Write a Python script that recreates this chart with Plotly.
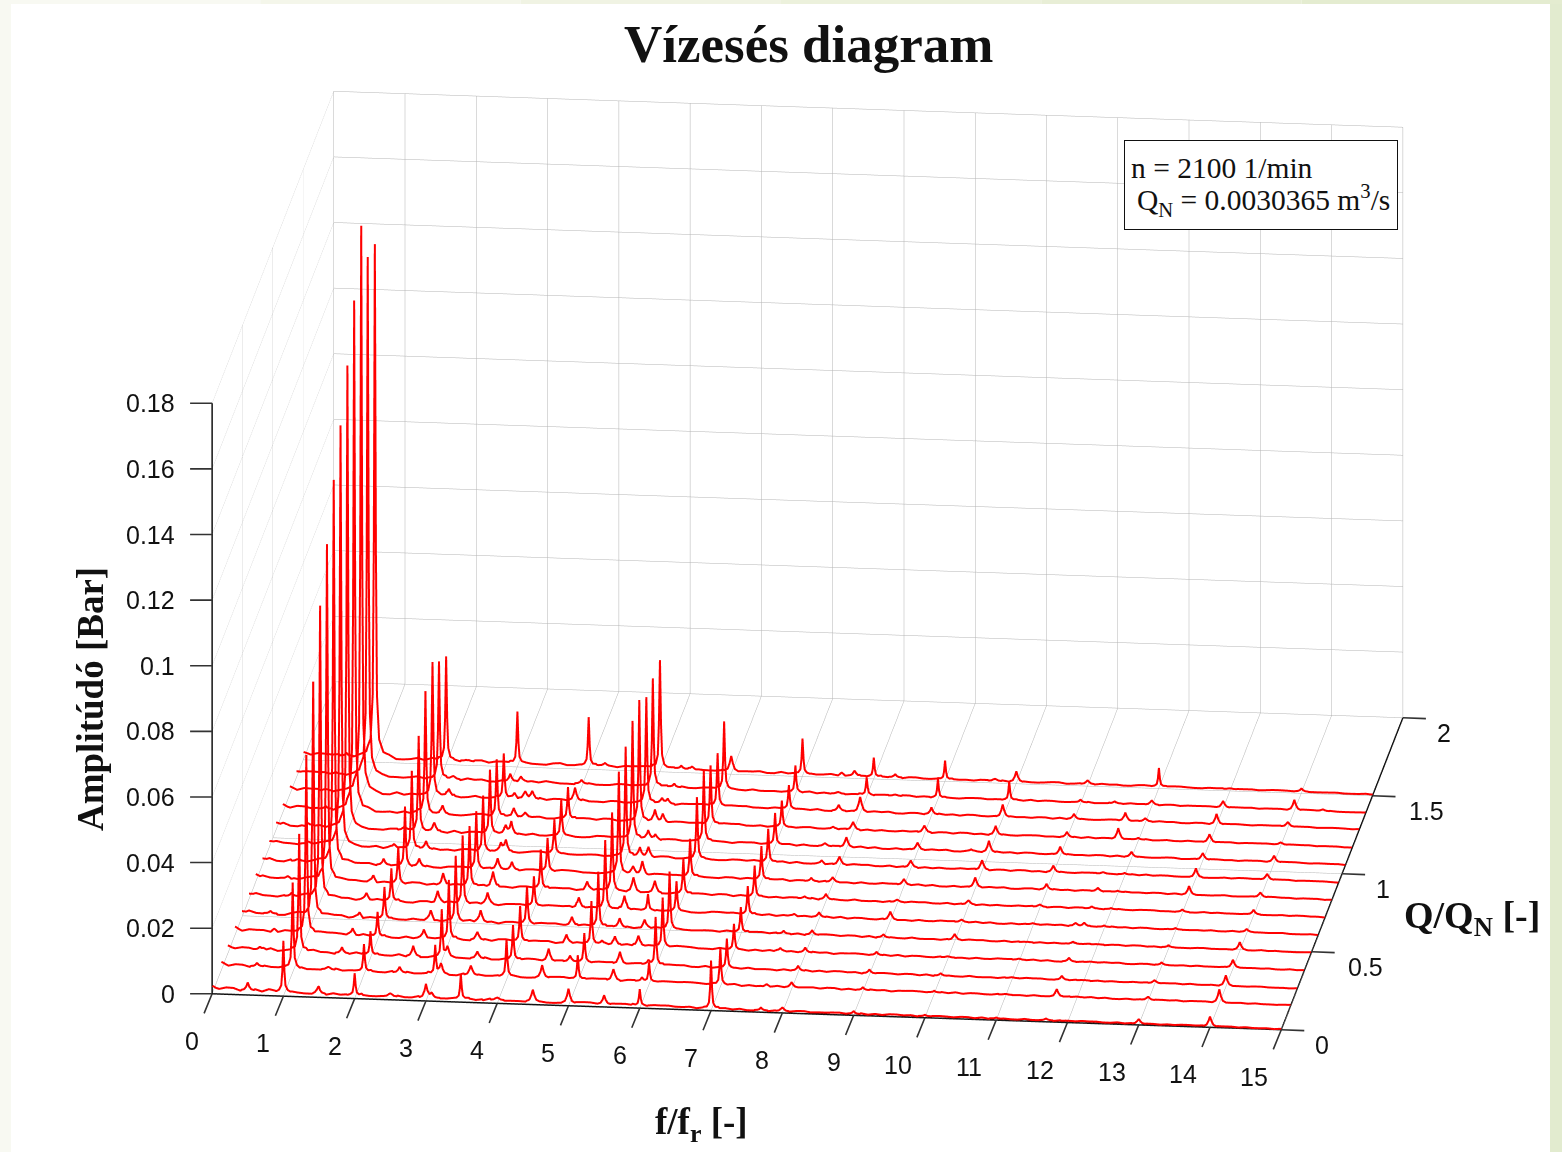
import numpy as np
import plotly.graph_objects as go

Q_VALUES = [0, .153, .26, .377, .49, .604, .717, .828, .94, 1.053, 1.164, 1.28, 1.387, 1.504]
HARMONICS = list(range(1, 15))
AMP_H1 = [.0167, .027, .0374, .056, .0724, .0906, .104, .118, .129, .142, .157, .174, .159, .158]
AMP_H2 = [.008, .0097, .008, .0088, .011, .011, .012, .019, .025, .030, .038, .042, .037, .0328]
AMP_H3 = [.005, .01, .0158, .019, .0207, .0216, .0195, .0185, .0176, .0207, .0185, .0146, .003, .0164]
AMP_H4 = [.002, .0125, .0113, .0116, .0128, .01, .0125, .0113, .0115, .012, .0103, .0046, .002, .0155]
AMP_H5 = [.005, .008, .01, .014, .0173, .022, .025, .032, .034, .0365, .0377, .033, .0337, .034]
AMP_H6 = [.006, .0067, .0152, .016, .0185, .01, .0113, .012, .0195, .022, .0185, .017, .0216, .0055]
AMP_H7 = [.015, .012, .0097, .0085, .008, .009, .01, .0106, .0106, .0103, .0088, .008, .009, .0115]
AMP_H8 = [.0012, .0015, .0012, .0012, .0012, .0012, .0015, .0015, .0025, .003, .0025, .0045, .0055, .0055]
AMP_H9 = [.0006, .0006, .001, .0008, .0008, .0025, .0008, .0018, .0022, .0022, .0022, .0018, .0055, .0055]
AMP_H10 = [.0003, .0003, .0006, .0004, .0018, .0008, .0014, .003, .003, .0032, .0025, .0035, .0055, .003]
AMP_H11 = [.0002, .0003, .0003, .0004, .0002, .0004, .0008, .0015, .0018, .0022, .0014, .0014, .0006, .0012]
AMP_H12 = [.0001, .0002, .0002, .0002, .0002, .0002, .0002, .0002, .0003, .0014, .0003, .001, .0014, .0055]
AMP_H13 = [.0015, .001, .001, .0006, .0005, .0003, .0006, .0025, .0025, .002, .0025, .003, .002, .0003]
AMP_H14 = [.003, .0038, .003, .0022, .0022, .0008, .0012, .0014, .0018, .0018, .0007, .0014, .003, .0008]
HARMONIC_AMPS = [AMP_H1, AMP_H2, AMP_H3, AMP_H4, AMP_H5, AMP_H6, AMP_H7,
                 AMP_H8, AMP_H9, AMP_H10, AMP_H11, AMP_H12, AMP_H13, AMP_H14]

# side peaks read per line: (f/fr, amplitude)
EXTRA_PEAKS = [
    [(.5, .002), (1.49, .002), (2.5, .0012), (3.08, .0015), (3.49, .0075), (4.5, .0035), (5.5, .0025), (7.7, .0006), (11.7, .0005)],
    [(.5, .0008), (1.5, .001), (2.5, .0015), (3.08, .003), (3.5, .003), (4.5, .0035), (5.5, .0035), (5.9, .0008), (7.65, .0006), (11.72, .0022)],
    [(.45, .0008), (1.6, .0015), (2.6, .0028), (3.08, .003), (3.5, .002), (4.5, .0035), (4.8, .0015), (5.5, .0035), (5.9, .001), (11.7, .001)],
    [(.55, .0008), (1.65, .002), (2.65, .0025), (3.4, .0025), (4.65, .0025), (5.15, .001), (5.33, .0025), (5.66, .003), (7.65, .001), (11.7, .001)],
    [(.4, .0006), (1.65, .0015), (2.65, .003), (3.35, .0035), (4.63, .0025), (5.3, .0025), (5.65, .0025), (7.6, .0006), (11.66, .0006)],
    [(.6, .0008), (1.65, .002), (2.65, .0035), (3.35, .0035), (4.63, .003), (5.27, .004), (5.6, .005), (7.65, .0006), (11.6, .001), (11.72, .001)],
    [(.45, .0006), (1.65, .002), (2.63, .0035), (3.33, .0045), (4.65, .0025), (5.3, .0045), (5.6, .0035), (7.7, .0006), (11.73, .0006)],
    [(.5, .0008), (1.7, .0015), (2.2, .002), (3.3, .003), (3.5, .002), (5.2, .0025), (5.33, .004), (7.7, .0008), (11.72, .001)],
    [(.55, .0006), (1.75, .001), (2.2, .002), (3.25, .0025), (3.32, .0035), (5.2, .0025), (5.32, .003), (7.75, .001), (11.7, .0005)],
    [(.45, .0008), (1.8, .001), (2.22, .0025), (3.22, .0025), (3.3, .0035), (5.22, .0025), (5.32, .0015), (7.7, .001), (9.75, .0006)],
    [(.6, .0006), (1.9, .0008), (2.24, .0025), (3.24, .0025), (3.4, .0015), (5.22, .0035), (5.33, .0025), (7.72, .0006), (11.72, .0032)],
    [(.5, .0006), (2.23, .002), (3.15, .0015), (3.3, .0025), (3.4, .0025), (5.22, .0015), (5.3, .0015), (7.7, .0015), (11.72, .0024)],
    [(.55, .0005), (2.2, .001), (3.15, .0015), (5.3, .0008), (7.6, .0006), (8.4, .0005), (11.48, .0006), (14.4, .0005)],
    [(.6, .0005), (2.3, .0006), (4.23, .0008), (5.3, .0008), (5.45, .0008), (7.55, .0008), (7.73, .0015), (8.3, .0008), (9.7, .0008)],
]

BASE_F = [0, .06, .2, .4, .7, 1, 1.5, 2, 3, 4, 5, 6, 7, 8, 9, 10, 11, 12, 13, 14, 15]
BASE_Z = [.0022, .0018, .0017, .0015, .0016, .0014, .0013, .0011, .0011, .0011, .0010, .0009,
          .0007, .0006, .0005, .0005, .0005, .0005, .0004, .0004, .0002]
RIPPLE = [.0003, -.0002, .0004, 0, -.0003, .0003, -.0004, .0002, .0004, -.0003, .0002, -.0002,
          .0003, -.0003, 0, .0004, -.0004, .0002, -.0002, .0003, -.0003, .0004, -.0002, 0,
          .0002, -.0004, .0003, -.0002, .0004, -.0003, .0002]

PEAK_OFFSETS = [-.3, -.12, -.06, -.03, -.015, 0, .015, .03, .06, .12, .3]
PEAK_SHAPE = [0, .01, .035, .12, .4, 1, .4, .12, .035, .01, 0]
HUMP_OFFSETS = [-.09, -.05, -.022, 0, .022, .05, .09]
HUMP_SHAPE = [0, .12, .5, 1, .5, .12, 0]
RIPPLE_STEP = 0.1

F_TICKS = list(range(16))
F_LABELS = [str(v) for v in F_TICKS]
Q_TICKS = [0, .5, 1, 1.5, 2]
Q_LABELS = ["0", "0.5", "1", "1.5", "2"]
Z_TICKS = [0, .02, .04, .06, .08, .1, .12, .14, .16, .18]
Z_LABELS = ["0", "0.02", "0.04", "0.06", "0.08", "0.1", "0.12", "0.14", "0.16", "0.18"]

fig = go.Figure()
for k, q in enumerate(Q_VALUES):
    peaks = [(h, amps[k] - (np.interp(h, BASE_F, BASE_Z) if h <= 7 else 0))
             for h, amps in zip(HARMONICS, HARMONIC_AMPS)] + EXTRA_PEAKS[k]
    peaks = [(f, max(a, .0001)) for f, a in peaks]
    grid = set(BASE_F)
    grid.update(np.arange(0, 15.001, RIPPLE_STEP).round(3).tolist())
    for f, a in peaks:
        off = PEAK_OFFSETS if a >= .005 else HUMP_OFFSETS
        grid.update(round(f + o, 4) for o in off)
    fx = np.array(sorted(g for g in grid if 0 <= g <= 15))
    z = np.interp(fx, BASE_F, BASE_Z)
    rip_idx = ((fx / RIPPLE_STEP).astype(int) + 5 * k) % len(RIPPLE)
    on_step = np.isclose(fx / RIPPLE_STEP, np.round(fx / RIPPLE_STEP))
    z = z + np.where(on_step, np.array(RIPPLE)[rip_idx] * np.interp(fx, [0, 7, 15], [1, .6, .25]), 0)
    for f, a in peaks:
        off, sh = (PEAK_OFFSETS, PEAK_SHAPE) if a >= .005 else (HUMP_OFFSETS, HUMP_SHAPE)
        z = z + np.interp(fx, [f + o for o in off], [a * s for s in sh], left=0, right=0)
    z = np.clip(z, 0.0001, None)
    fig.add_trace(go.Scatter3d(x=fx, y=[q] * len(fx), z=z, mode="lines",
                               line=dict(color="#ff0000", width=4),
                               showlegend=False, hoverinfo="skip"))

def axis(rng, ticks):
    return dict(range=rng, tickvals=ticks, showgrid=True, gridcolor="#b4b4b4", gridwidth=1,
                zeroline=False, showline=True, linecolor="#111111", linewidth=3,
                ticks="", showticklabels=False,
                showbackground=False, showspikes=False, title=dict(text=""))

TICK_FONT = dict(family="Liberation Sans", size=25, color="#111111")
TICK_COLOR = "#333333"

def tick_mark(x, y, z, ax, ay):
    return dict(x=x, y=y, z=z, text=" ", showarrow=True, arrowhead=0, arrowwidth=1.6,
                arrowcolor=TICK_COLOR, ax=ax, ay=ay, standoff=0)

def tick_label(x, y, z, text, xshift, yshift, xanchor="center"):
    return dict(x=x, y=y, z=z, text=text, showarrow=False, xshift=xshift, yshift=yshift,
                xanchor=xanchor, yanchor="middle", font=TICK_FONT)

scene_notes = []
for v, lab in zip(F_TICKS, F_LABELS):
    scene_notes.append(tick_mark(v, 0, 0, -11, 27))
    scene_notes.append(tick_label(v, 0, 0, lab, -27 if v >= 10 else -20, -47))
for v, lab in zip(Q_TICKS, Q_LABELS):
    scene_notes.append(tick_mark(15, v, 0, 26, 1))
    scene_notes.append(tick_label(15, v, 0, lab, 54 if len(lab) > 1 else 41, -15))
for v, lab in zip(Z_TICKS, Z_LABELS):
    scene_notes.append(tick_mark(0, 0, v, -25, 0))
    scene_notes.append(tick_label(0, 0, v, lab, -35, 0, "right"))

ASPECT_SCALE = 1.92
EYE_DIR = (.1087, -.9498, .2936)
EYE_DIST = 1.75
serif = "Liberation Serif"
INK = "#111111"
bands = [dict(type="rect", xref="paper", yref="paper", x0=0, x1=1, y0=0, y1=1, layer="below",
              line_width=0, fillcolor="#ffffff"),
         dict(type="rect", xref="paper", yref="paper", x0=0, x1=11/1562, y0=0, y1=1, layer="below",
              line_width=0, fillcolor="#f8f9f2"),
         dict(type="rect", xref="paper", yref="paper", x0=1550/1562, x1=1, y0=0, y1=1, layer="below",
              line_width=0, fillcolor="#e2ebcf")]
top_cols = ["#f8f9f2", "#f4f6ea", "#f0f3e3", "#ecf1dc", "#e8eed6", "#e4ecd0"]
for i, c in enumerate(top_cols):
    bands.append(dict(type="rect", xref="paper", yref="paper", x0=i/6, x1=(i+1)/6,
                      y0=1-4/1152, y1=1, layer="below", line_width=0, fillcolor=c))

def px(x, y, xanchor="center"):
    return dict(x=x/1562, y=1-y/1152, xref="paper", yref="paper", showarrow=False,
                xanchor=xanchor, yanchor="middle")

fig.update_layout(
    width=1562, height=1152, margin=dict(l=0, r=0, t=0, b=0),
    paper_bgcolor="#ffffff", showlegend=False, shapes=bands,
    scene=dict(
        domain=dict(x=[53/1562, 1], y=[31/1152, 1]),
        xaxis=axis([0, 15], F_TICKS), yaxis=axis([0, 2], Q_TICKS),
        zaxis=axis([0, .18], Z_TICKS),
        aspectmode="manual",
        aspectratio=dict(x=ASPECT_SCALE, y=.994*ASPECT_SCALE, z=.574*ASPECT_SCALE),
        camera=dict(projection=dict(type="orthographic"), up=dict(x=0, y=0, z=1),
                    center=dict(x=0, y=0, z=0),
                    eye=dict(x=EYE_DIR[0]*EYE_DIST, y=EYE_DIR[1]*EYE_DIST, z=EYE_DIR[2]*EYE_DIST)),
        annotations=scene_notes,
    ),
    annotations=[
        dict(text="<b>Vízesés diagram</b>", font=dict(family=serif, size=53, color=INK), **px(808, 44)),
        dict(text="<b>Amplitúdó [Bar]</b>", textangle=-90, font=dict(family=serif, size=37, color=INK), **px(90, 699)),
        dict(text="<b>f/f<sub>r</sub> [-]</b>", font=dict(family=serif, size=37, color=INK), **px(701, 1124)),
        dict(text="<b>Q/Q<sub>N</sub> [-]</b>", font=dict(family=serif, size=38, color=INK), **px(1472, 918)),
        dict(text=" ", bgcolor="#ffffff", bordercolor=INK, borderwidth=1, width=270, height=86, **px(1261, 185)),
        dict(text="n = 2100 1/min", font=dict(family=serif, size=29.5, color=INK), **px(1129, 168, "left")),
        dict(text="Q<sub>N</sub> = 0.0030365 m<sup>3</sup>/s", font=dict(family=serif, size=29.5, color=INK), **px(1135, 200, "left")),
    ],
)
fig.write_html("out.html", config={"displayModeBar": False}, post_script="document.body.style.margin='0';")
